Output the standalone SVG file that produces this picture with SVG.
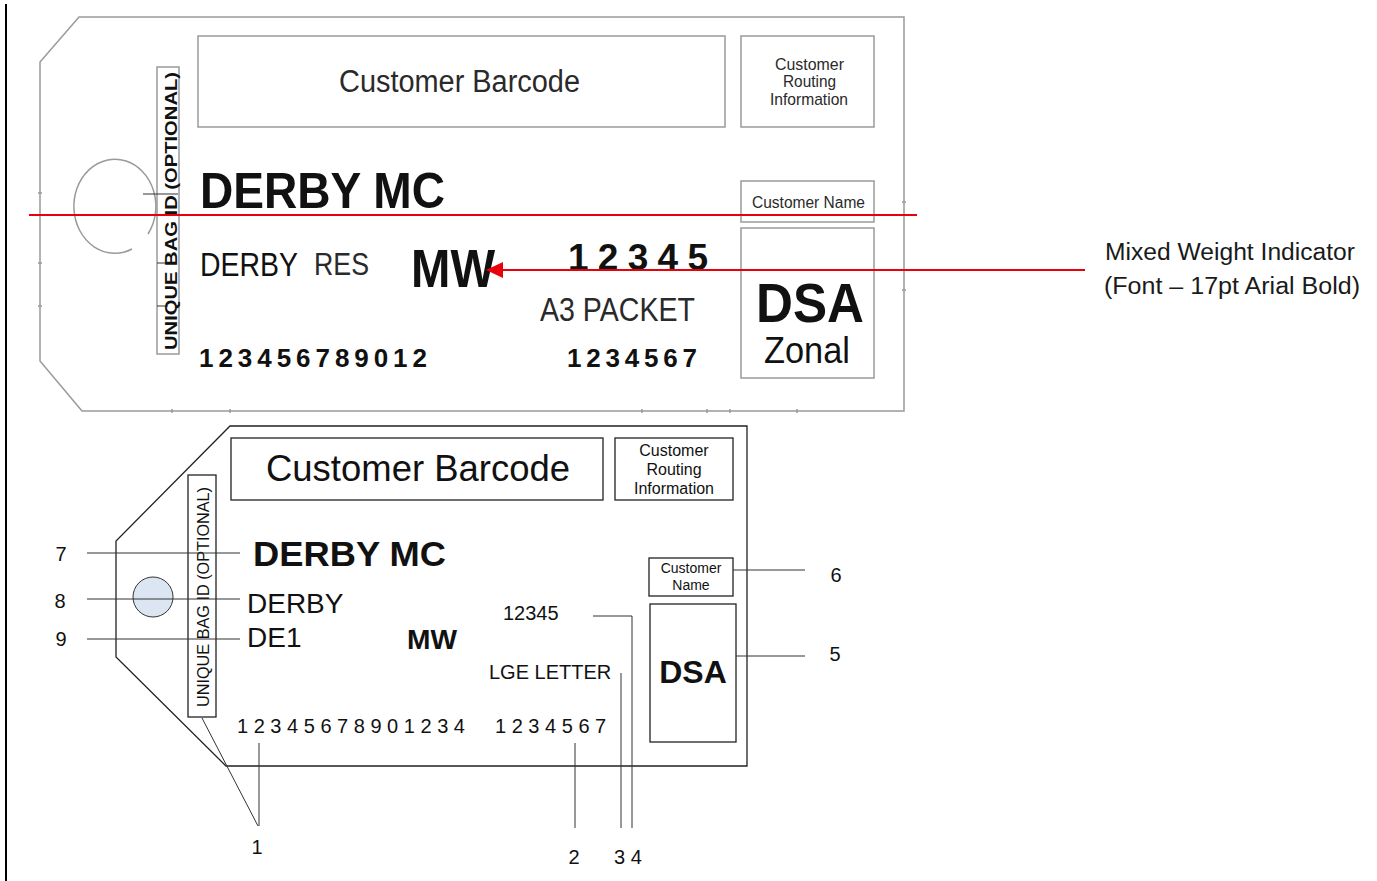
<svg xmlns="http://www.w3.org/2000/svg" width="1377" height="881" viewBox="0 0 1377 881">
<style>
.gl{fill:none;stroke:#9a9a9a;stroke-width:1.5}
.bl{fill:none;stroke:#222;stroke-width:1.3}
.ld{fill:none;stroke:#333;stroke-width:1}
.t{font-family:"Liberation Sans",Arial,sans-serif;fill:#111}
.b{font-weight:bold}
.g{fill:#2a2a2a}
.red{stroke:#e8000b;stroke-width:2;fill:none}
.note{font-family:"Liberation Sans",Arial,sans-serif;fill:#1a1a1a;font-size:23px}
</style>
<rect x="0" y="0" width="1377" height="881" fill="#fff"/>
<line x1="6" y1="4" x2="6" y2="881" stroke="#000" stroke-width="2"/>

<!-- TOP TAG -->
<g id="top-tag">
  <polygon class="gl" points="79,17 904,17 904,411 82,411 40,361 40,62"/>
  <path class="gl" d="M132,249 A41 47 0 1 1 148,234"/>
  <g class="gl" stroke-width="1">
    <line x1="38" y1="193" x2="42" y2="193"/><line x1="38" y1="263" x2="42" y2="263"/><line x1="38" y1="306" x2="42" y2="306"/>
    <line x1="172" y1="409" x2="172" y2="413"/><line x1="230" y1="409" x2="230" y2="413"/><line x1="642" y1="409" x2="642" y2="413"/><line x1="707" y1="409" x2="707" y2="413"/><line x1="730" y1="409" x2="730" y2="413"/><line x1="797" y1="409" x2="797" y2="413"/>
    <line x1="902" y1="202" x2="906" y2="202"/><line x1="902" y1="290" x2="906" y2="290"/>
  </g>
</g>
<g id="top-bagid">
  <rect class="gl" x="157" y="67" width="22" height="287"/>
  <line x1="143" y1="194" x2="178" y2="194" stroke="#333" stroke-width="1.2"/>
  <line x1="157" y1="263" x2="168" y2="263" stroke="#333" stroke-width="1"/>
  <line x1="157" y1="306" x2="168" y2="306" stroke="#333" stroke-width="1"/>
  <text class="t b" font-size="17" transform="translate(177,211) rotate(-90)" text-anchor="middle" textLength="278" lengthAdjust="spacingAndGlyphs">UNIQUE BAG ID (OPTIONAL)</text>
</g>
<g id="top-barcode">
  <rect class="gl" x="198" y="36" width="527" height="91"/>
  <text class="t g" x="339" y="92" font-size="31" textLength="241" lengthAdjust="spacingAndGlyphs">Customer Barcode</text>
</g>
<g id="top-routing">
  <rect class="gl" x="741" y="36" width="133" height="91"/>
  <text class="t g" x="775" y="70" font-size="17" textLength="69" lengthAdjust="spacingAndGlyphs">Customer</text>
  <text class="t g" x="783" y="87" font-size="17" textLength="53" lengthAdjust="spacingAndGlyphs">Routing</text>
  <text class="t g" x="770" y="105" font-size="17" textLength="78" lengthAdjust="spacingAndGlyphs">Information</text>
</g>
<g id="top-custname">
  <rect class="gl" x="741" y="181" width="133" height="41"/>
  <text class="t g" x="752" y="208" font-size="16" textLength="113" lengthAdjust="spacingAndGlyphs">Customer Name</text>
</g>
<g id="top-dsa">
  <rect class="gl" x="741" y="228" width="133" height="150"/>
  <text class="t b" x="756" y="322" font-size="56" textLength="108" lengthAdjust="spacingAndGlyphs">DSA</text>
  <text class="t" x="764" y="363" font-size="37" textLength="86" lengthAdjust="spacingAndGlyphs">Zonal</text>
</g>
<g id="top-texts">
  <text class="t b" x="200" y="208" font-size="50" textLength="245" lengthAdjust="spacingAndGlyphs">DERBY MC</text>
  <text class="t" x="200" y="276" font-size="33" textLength="98" lengthAdjust="spacingAndGlyphs">DERBY</text>
  <text class="t g" x="314" y="275" font-size="31" textLength="55" lengthAdjust="spacingAndGlyphs">RES</text>
  <text class="t b" x="411" y="287" font-size="54" textLength="84" lengthAdjust="spacingAndGlyphs">MW</text>
  <text class="t b" x="568" y="270" font-size="37" textLength="140" lengthAdjust="spacing">12345</text>
  <text class="t g" x="540" y="321" font-size="33" textLength="155" lengthAdjust="spacingAndGlyphs">A3 PACKET</text>
  <text class="t b" x="199" y="367" font-size="26" textLength="228" lengthAdjust="spacing">123456789012</text>
  <text class="t b" x="567" y="367" font-size="26" textLength="130" lengthAdjust="spacing">1234567</text>
</g>

<!-- BOTTOM TAG -->
<g id="bottom-tag">
  <polygon class="bl" points="230,426 747,426 747,766 226,766 116,657 116,541"/>
  <circle cx="153" cy="597" r="20" fill="#dce6f2" stroke="#333" stroke-width="1"/>
</g>
<g id="bottom-bagid">
  <rect class="bl" x="188" y="475" width="28" height="242"/>
  <text class="t" font-size="16" transform="translate(209,597) rotate(-90)" text-anchor="middle" textLength="220" lengthAdjust="spacingAndGlyphs">UNIQUE BAG ID (OPTIONAL)</text>
</g>
<g id="bottom-barcode">
  <rect class="bl" x="231" y="438" width="372" height="62"/>
  <text class="t" x="266" y="481" font-size="37" textLength="304" lengthAdjust="spacingAndGlyphs">Customer Barcode</text>
</g>
<g id="bottom-routing">
  <rect class="bl" x="615" y="438" width="118" height="62"/>
  <text class="t" x="674" y="456" font-size="16" text-anchor="middle">Customer</text>
  <text class="t" x="674" y="475" font-size="16" text-anchor="middle">Routing</text>
  <text class="t" x="674" y="494" font-size="16" text-anchor="middle">Information</text>
</g>
<g id="bottom-custname">
  <rect class="bl" x="649" y="558" width="84" height="38"/>
  <text class="t" x="691" y="573" font-size="14" text-anchor="middle">Customer</text>
  <text class="t" x="691" y="590" font-size="14" text-anchor="middle">Name</text>
</g>
<g id="bottom-dsa">
  <rect class="bl" x="650" y="604" width="86" height="138"/>
  <text class="t b" x="693" y="683" font-size="32" text-anchor="middle">DSA</text>
</g>
<g id="bottom-texts">
  <text class="t b" x="253" y="566" font-size="35" textLength="193" lengthAdjust="spacingAndGlyphs">DERBY MC</text>
  <text class="t" x="247" y="613" font-size="28">DERBY</text>
  <text class="t" x="247" y="647" font-size="28">DE1</text>
  <text class="t b" x="407" y="649" font-size="27" textLength="50" lengthAdjust="spacingAndGlyphs">MW</text>
  <text class="t" x="503" y="620" font-size="20">12345</text>
  <text class="t" x="489" y="679" font-size="20">LGE LETTER</text>
  <text class="t" x="237" y="733" font-size="20">1 2 3 4 5 6 7 8 9 0 1 2 3 4</text>
  <text class="t" x="495" y="733" font-size="20">1 2 3 4 5 6 7</text>
</g>
<g id="labels">
  <text class="t" x="61" y="561" font-size="20" text-anchor="middle">7</text>
  <text class="t" x="60" y="608" font-size="20" text-anchor="middle">8</text>
  <text class="t" x="61" y="646" font-size="20" text-anchor="middle">9</text>
  <text class="t" x="836" y="582" font-size="20" text-anchor="middle">6</text>
  <text class="t" x="835" y="661" font-size="20" text-anchor="middle">5</text>
  <text class="t" x="257" y="854" font-size="20" text-anchor="middle">1</text>
  <text class="t" x="574" y="864" font-size="20" text-anchor="middle">2</text>
  <text class="t" x="628" y="864" font-size="20" text-anchor="middle">3 4</text>
</g>
<g id="mw-note">
  <text class="note" x="1105" y="260" textLength="250" lengthAdjust="spacingAndGlyphs">Mixed Weight Indicator</text>
  <text class="note" x="1104" y="294" textLength="256" lengthAdjust="spacingAndGlyphs">(Font – 17pt Arial Bold)</text>
</g>

<!-- CONNECTORS -->
<g id="connectors">
  <line class="red" x1="29" y1="215" x2="917" y2="215"/>
  <line class="red" x1="1085" y1="270" x2="500" y2="270" stroke-width="1.5"/>
  <polygon points="486,270 503,262 503,278" fill="#e8000b"/>
  <line class="ld" x1="87" y1="553" x2="240" y2="553"/>
  <line class="ld" x1="87" y1="599" x2="240" y2="599"/>
  <line class="ld" x1="87" y1="639" x2="240" y2="639"/>
  <line class="ld" x1="733" y1="570" x2="805" y2="570"/>
  <line class="ld" x1="736" y1="656" x2="805" y2="656"/>
  <polyline class="ld" points="593,616 632,616 632,828"/>
  <line class="ld" x1="621" y1="673" x2="621" y2="828"/>
  <line class="ld" x1="575" y1="743" x2="575" y2="828"/>
  <line class="ld" x1="202" y1="718" x2="258" y2="826"/>
  <line class="ld" x1="259" y1="743" x2="259" y2="826"/>
</g>
</svg>
